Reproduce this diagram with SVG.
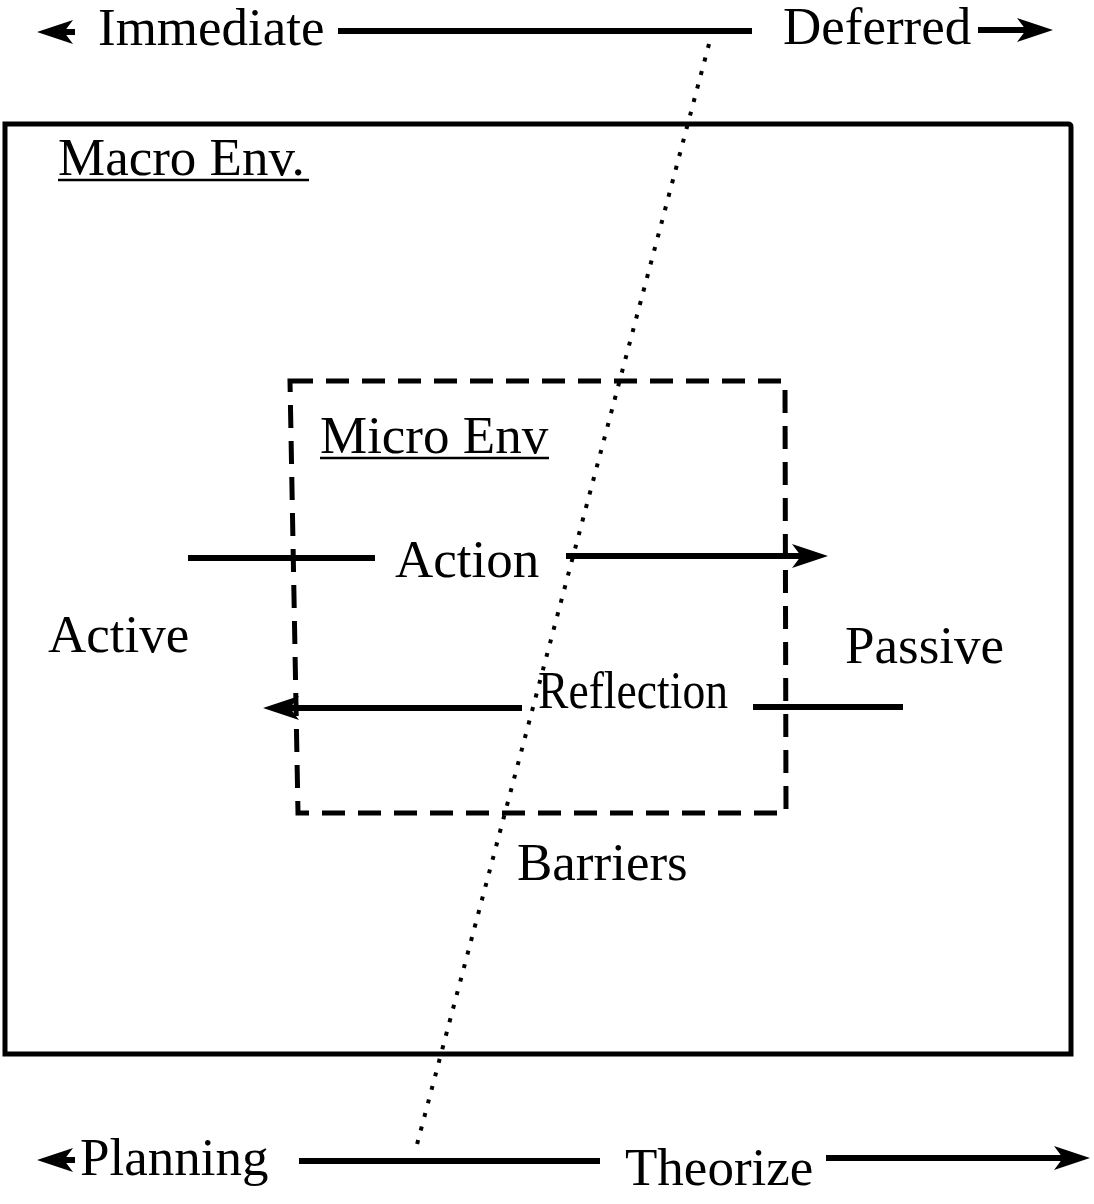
<svg xmlns="http://www.w3.org/2000/svg" width="1094" height="1204" viewBox="0 0 1094 1204">
<style>
  text { font-family: "Liberation Serif", "Times New Roman", serif; font-size: 53px; fill: #000; }
  .arrow { stroke: #000; stroke-width: 6; fill: none; marker-end: url(#head); }
  .seg { stroke: #000; stroke-width: 6; fill: none; }
  .ul { stroke: #000; stroke-width: 2.5; }
</style>
<defs>
  <marker id="head" viewBox="-36 -13 37 26" markerWidth="37" markerHeight="26" refX="-20" refY="0" orient="auto" markerUnits="userSpaceOnUse" overflow="visible">
    <path d="M0,0 L-36,-12 L-27,0 L-36,12 Z" fill="#000"/>
  </marker>
</defs>
<rect width="1094" height="1204" fill="#fff"/>

<g id="macro-env">
  <path d="M5,124 L1068,124 Q1071,124 1071,127 L1071,1054 L5,1054 Z" fill="none" stroke="#000" stroke-width="5"/>
  <text x="58" y="175">Macro Env.</text>
  <line class="ul" x1="58" y1="180" x2="309" y2="180"/>
</g>

<g id="micro-env">
  <path d="M290,381 L785,381 L786,813 L298,813 Z" fill="none" stroke="#000" stroke-width="5" stroke-dasharray="23 13"/>
  <text x="320" y="453">Micro Env</text>
  <line class="ul" x1="320" y1="458" x2="549" y2="458"/>
</g>

<g id="labels">
  <text x="98" y="45">Immediate</text>
  <text x="783" y="44" font-size="52">Deferred</text>
  <text x="395" y="577">Action</text>
  <text x="48" y="652">Active</text>
  <text x="845" y="663">Passive</text>
  <text x="538" y="708" font-size="46" textLength="190" lengthAdjust="spacingAndGlyphs">Reflection</text>
  <text x="517" y="880">Barriers</text>
  <text x="80" y="1175">Planning</text>
  <text x="625" y="1185">Theorize</text>
</g>

<g id="connectors">
  <line x1="709" y1="44" x2="415" y2="1152" stroke="#000" stroke-width="4" stroke-dasharray="4 10"/>
  <line class="arrow" x1="75" y1="32" x2="57" y2="32"/>
  <line class="seg" x1="338" y1="31" x2="752" y2="31"/>
  <line class="arrow" x1="978" y1="30" x2="1033" y2="30"/>
  <line class="seg" x1="188" y1="558" x2="375" y2="558"/>
  <line class="arrow" x1="566" y1="556" x2="808" y2="556"/>
  <line class="arrow" x1="522" y1="708" x2="283" y2="708"/>
  <line class="seg" x1="753" y1="707" x2="903" y2="707"/>
  <line class="arrow" x1="75" y1="1160" x2="57" y2="1160"/>
  <line class="seg" x1="299" y1="1161" x2="600" y2="1161"/>
  <line class="arrow" x1="826" y1="1158" x2="1070" y2="1158"/>
</g>
</svg>
